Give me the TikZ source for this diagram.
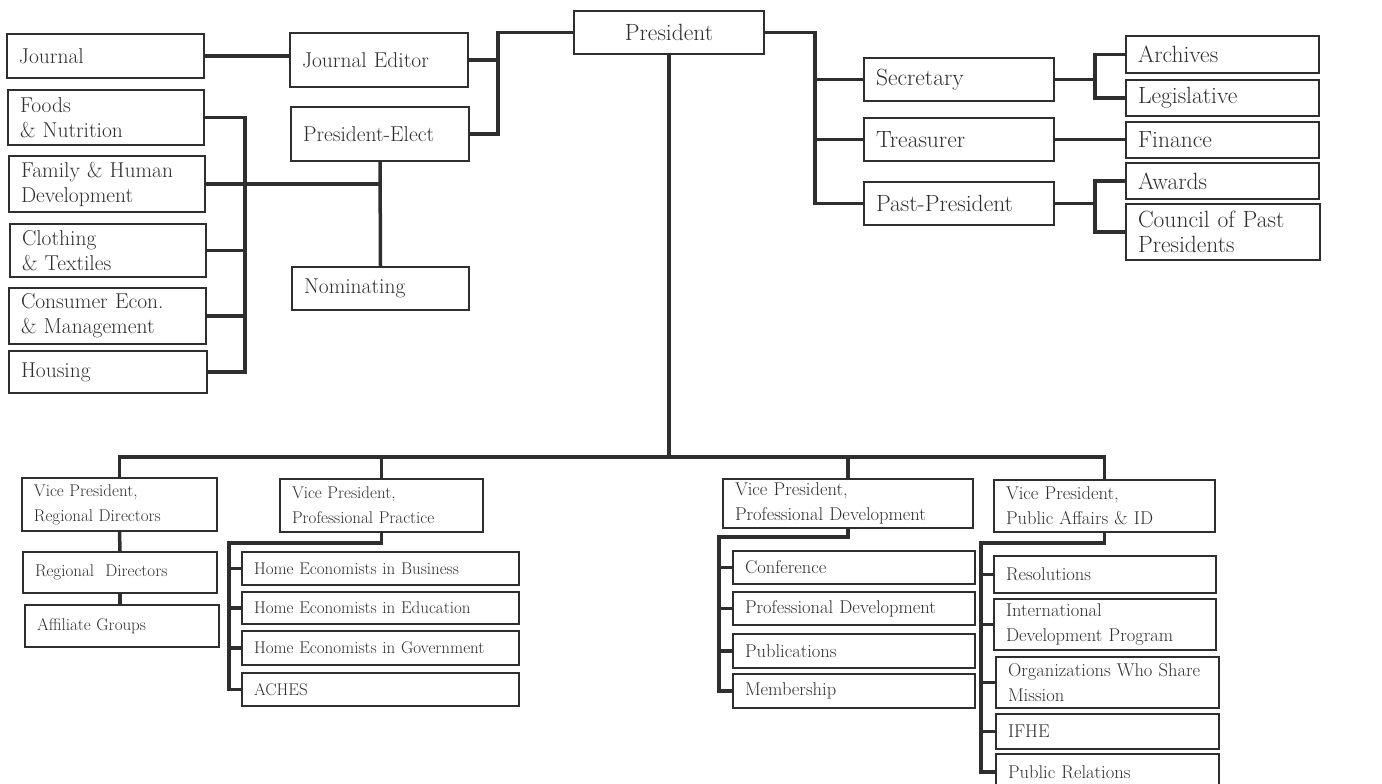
\documentclass[tikz,border=0pt]{standalone}
\usepackage{tikz}

\definecolor{ink}{HTML}{2E2E2E}

\begin{document}
\begin{tikzpicture}[x=1pt,y=-1pt,
	box/.style={draw=ink,line width=2pt,text=ink,anchor=north west,align=left,inner xsep=12pt,inner ysep=0pt,text width=#1,font=\fontsize{21.5}{25}\selectfont},
	big/.style={font=\fontsize{23.5}{25}\selectfont},
	low/.style={font=\fontsize{17}{25}\selectfont},
	mid/.style={font=\fontsize{18.5}{25}\selectfont},
	wire/.style={draw=ink,line width=3.5pt}]
\useasboundingbox (0,0) rectangle (1382,784);

\node [box=166,big,align=center,minimum height=43] (pr) at (573,10) {President};
\node [box=173,minimum height=44] (jr) at (6,33) {Journal};
\node [box=154,minimum height=54] (je) at (289,32) {Journal Editor};
\node [box=154,minimum height=54] (pe) at (290,106) {President-Elect};
\node [box=153,minimum height=43] (nm) at (291,266) {Nominating};
\node [box=172,minimum height=55] (fn) at (7,89) {Foods\\\& Nutrition};
\node [box=172,minimum height=56] (fh) at (8,155) {Family \& Human\\Development};
\node [box=172,minimum height=53] (ct) at (9,223) {Clothing\\\& Textiles};
\node [box=173,minimum height=56] (ce) at (8,287) {Consumer Econ.\\\& Management};
\node [box=174,minimum height=42] (ho) at (8,350) {Housing};

\node [box=166,big,minimum height=43] (se) at (863,57) {Secretary};
\node [box=166,big,minimum height=43] (tr) at (863,117) {Treasurer};
\node [box=166,big,minimum height=43] (pp) at (863,181) {Past-President};
\node [box=169,big,minimum height=37] (ar) at (1125,35) {Archives};
\node [box=169,big,minimum height=36] (le) at (1125,79) {Legislative};
\node [box=169,big,minimum height=36] (fi) at (1125,121) {Finance};
\node [box=169,big,minimum height=36] (aw) at (1125,162) {Awards};
\node [box=170,big,minimum height=56] (cp) at (1125,203) {Council of Past\\Presidents};

\node [box=171,low,minimum height=53] (v1) at (21,477) {Vice President,\\Regional Directors};
\node [box=179,low,minimum height=53] (v2) at (279,478) {Vice President,\\Professional Practice};
\node [box=226,mid,minimum height=49] (v3) at (722,478) {Vice President,\\Professional Development};
\node [box=197,mid,minimum height=52] (v4) at (993,479) {Vice President,\\Public Affairs \& ID};

\node [box=170,low,minimum height=41] (rd) at (22,551) {Regional\ \ Directors};
\node [box=170,low,minimum height=42] (ag) at (24,604) {Affiliate Groups};

\node [box=253,low,minimum height=33] (h1) at (241,551) {Home Economists in Business};
\node [box=253,low,minimum height=32] (h2) at (241,591) {Home Economists in Education};
\node [box=253,low,minimum height=34] (h3) at (241,630) {Home Economists in Government};
\node [box=253,low,minimum height=33] (h4) at (241,672) {ACHES};

\node [box=218,mid,minimum height=33] (c1) at (732,550) {Conference};
\node [box=218,mid,minimum height=33] (c2) at (732,591) {Professional Development};
\node [box=218,mid,minimum height=34] (c3) at (732,633) {Publications};
\node [box=218,mid,minimum height=34] (c4) at (732,673) {Membership};

\node [box=198,mid,minimum height=37] (p1) at (993,555) {Resolutions};
\node [box=198,mid,minimum height=51] (p2) at (993,598) {International\\Development Program};
\node [box=199,mid,minimum height=51] (p3) at (995,656) {Organizations Who Share\\Mission};
\node [box=199,mid,minimum height=35] (p4) at (995,713) {IFHE};
\node [box=199,mid,minimum height=36] (p5) at (995,753) {Public Relations};

\coordinate (jb) at (498,0);
\coordinate (db) at (245,0);
\coordinate (ob) at (815,0);
\coordinate (sb) at (1095,0);
\coordinate (qb) at (1095,0);
\coordinate (vb) at (0,457);
\coordinate (pb) at (229,543);
\coordinate (cb) at (719,537);
\coordinate (rb) at (981,543);

\draw [wire] (jr.east) -- (jr.east -| je.west);
\draw [wire] (pr.west) -- (pr.west -| jb) |- (pe.east);
\draw [wire] (je.east) -- (je.east -| jb);
\draw [wire] (fn.east) -| (ho.east -| db) -- (ho.east);
\foreach \n in {ct,ce}
	\draw [wire] (\n.east) -- (\n.east -| db);
\draw [wire] (fh.east) -- (fh.east -| pe.south);
\draw [wire] (pe.south) -- (nm.north);

\draw [wire] (pr.east) -| (pp.west -| ob) -- (pp.west);
\draw [wire] (se.west) -- (se.west -| ob);
\draw [wire] (tr.west) -- (tr.west -| ob);
\draw [wire] (ar.west) -| (le.west -| sb) -- (le.west);
\draw [wire] (se.east) -- (se.east -| sb);
\draw [wire] (tr.east) -- (tr.east -| fi.west);
\draw [wire] (aw.west) -| (cp.west -| qb) -- (cp.west);
\draw [wire] (pp.east) -- (pp.east -| qb);

\draw [wire] (pr.south) -- (pr.south |- vb);
\draw [wire] (v1.north) |- (v4.north |- vb) -- (v4.north);
\draw [wire] (v2.north) -- (v2.north |- vb);
\draw [wire] (v3.north) -- (v3.north |- vb);
\draw [wire] (v1.south) -- (rd.north);
\draw [wire] (rd.south) -- (rd.south |- ag.north);

\draw [wire] (v2.south) |- (pb) |- (h4.west);
\foreach \n in {h1,h2,h3}
	\draw [wire] (\n.west) -- (\n.west -| pb);
\draw [wire] (v3.south) |- (cb) |- (c4.west);
\foreach \n in {c1,c2,c3}
	\draw [wire] (\n.west) -- (\n.west -| cb);
\draw [wire] (v4.south) |- (rb) |- (p5.west);
\foreach \n in {p1,p2,p3,p4}
	\draw [wire] (\n.west) -- (\n.west -| rb);
\end{tikzpicture}
\end{document}
